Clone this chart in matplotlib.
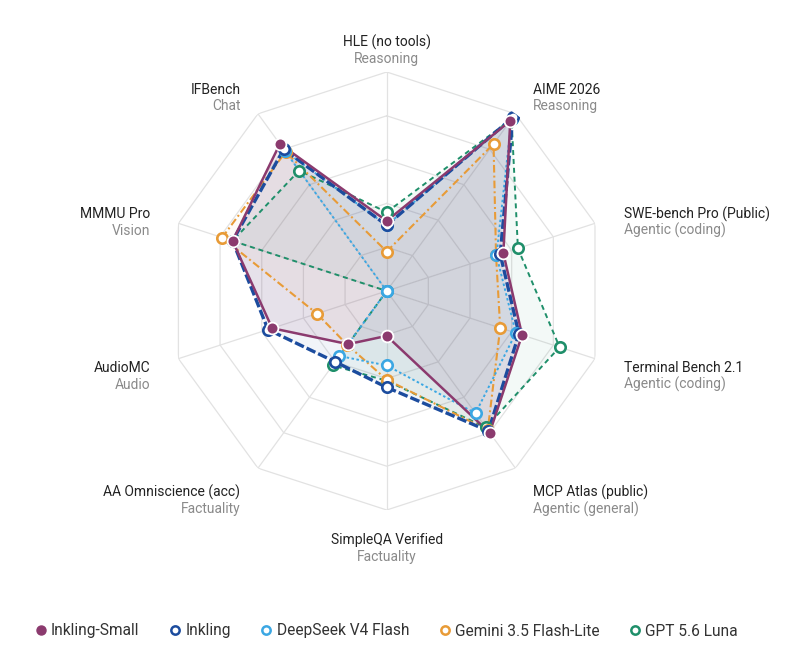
import numpy as np
import matplotlib
matplotlib.use("Agg")
import matplotlib.pyplot as plt
from matplotlib.lines import Line2D

plt.rcParams['font.family'] = ['Roboto', 'DejaVu Sans']
plt.rcParams['lines.scale_dashes'] = False

# axes (benchmark, category), clockwise from the top
benchmarks = ["HLE (no tools)", "AIME 2026", "SWE-bench Pro (Public)", "Terminal Bench 2.1",
              "MCP Atlas (public)", "SimpleQA Verified", "AA Omniscience (acc)", "AudioMC",
              "MMMU Pro", "IFBench"]
categories = ["Reasoning", "Reasoning", "Agentic (coding)", "Agentic (coding)",
              "Agentic (general)", "Factuality", "Factuality", "Audio", "Vision", "Chat"]

# normalised scores (0 = centre, 1 = outer ring)
inkling_small = [0.32, 0.96, 0.56, 0.65, 0.80, 0.205, 0.30, 0.55, 0.74, 0.83]
inkling       = [0.30, 0.98, 0.545, 0.635, 0.79, 0.44, 0.40, 0.57, 0.74, 0.80]
deepseek      = [0.30, 0.97, 0.527, 0.62, 0.69, 0.34, 0.367, 0.0, 0.0, 0.79]
gemini        = [0.18, 0.83, 0.525, 0.545, 0.785, 0.405, 0.305, 0.335, 0.79, 0.785]
gpt_luna      = [0.36, 0.97, 0.63, 0.83, 0.77, 0.41, 0.42, 0.0, 0.74, 0.68]

models = ["Inkling-Small", "Inkling", "DeepSeek V4 Flash", "Gemini 3.5 Flash-Lite", "GPT 5.6 Luna"]
scores = [inkling_small, inkling, deepseek, gemini, gpt_luna]

colors = ['#8b3a6e', '#1c4c9e', '#3ba7e3', '#e89b37', '#1f8f6a']
styles = ['-', (0, (7, 2.2)), (0, (1.8, 1.8)), (0, (5.5, 2.2, 1.4, 2.2)), (0, (3.6, 2.8))]
widths = [1.8, 2.4, 1.4, 1.5, 1.4]
fill_alpha = [0.10, 0.06, 0.06, 0.04, 0.05]
hollow = [False, True, True, True, True]

fig = plt.figure(figsize=(8.04, 6.57), dpi=100)
cx, cy, rad = 386.7 / 804, 1 - 291 / 657, 219.0
ax = fig.add_axes([cx - rad / 804, cy - rad / 657, 2 * rad / 804, 2 * rad / 657], projection='polar')
ax.set_theta_offset(np.pi / 2)
ax.set_theta_direction(-1)
ax.set_ylim(0, 1)
ax.grid(False)
ax.set_xticks([])
ax.set_yticks([])
ax.spines['polar'].set_visible(False)
ax.patch.set_alpha(0)

n = len(benchmarks)
angles = np.linspace(0, 2 * np.pi, n, endpoint=False)
closed = np.append(angles, angles[0])

# decagon grid
for r in [0.2, 0.4, 0.6, 0.8, 1.0]:
    ax.plot(closed, [r] * (n + 1), color='#e2e2e2', lw=0.9, zorder=0)
for a in angles:
    ax.plot([a, a], [0, 1], color='#e2e2e2', lw=0.9, zorder=0)

# series, drawn bottom to top
for i in reversed(range(len(models))):
    vals = np.append(scores[i], scores[i][0])
    ax.fill(closed, vals, color=colors[i], alpha=fill_alpha[i], lw=0, zorder=1)
    ax.plot(closed, vals, color=colors[i], ls=styles[i], lw=widths[i], zorder=2)
    if hollow[i]:
        ax.plot(angles, scores[i], ls='none', marker='o', ms=7.5, mfc='white',
                mec=colors[i], mew=1.9, zorder=3)
    else:
        ax.plot(angles, scores[i], ls='none', marker='o', ms=8.5, mfc=colors[i],
                mec='white', mew=1.3, zorder=3)

# axis labels
lab_r = 249 / rad
for a, name, cat in zip(angles, benchmarks, categories):
    s = np.sin(a)
    if abs(s) < 0.1:
        ha = 'center'
    elif s > 0:
        ha = 'left'
    else:
        ha = 'right'
    ax.annotate(name, (a, lab_r), ha=ha, va='center', fontsize=10, color='#222222',
                annotation_clip=False)
    ax.annotate(cat, (a, lab_r), xytext=(0, -12), textcoords='offset points', ha=ha,
                va='center', fontsize=10, color='#8a8a8a', annotation_clip=False)

# legend
handles = []
for i, m in enumerate(models):
    if hollow[i]:
        h = Line2D([], [], ls='none', marker='o', ms=6, mfc='white', mec=colors[i], mew=1.8)
    else:
        h = Line2D([], [], ls='none', marker='o', ms=6.5, mfc=colors[i], mec=colors[i])
    handles.append(h)
leg = fig.legend(handles, models, loc='center left', bbox_to_anchor=(36 / 804, 26 / 657), ncol=5,
                 frameon=False, fontsize=11.2, handlelength=0.6, handletextpad=0.35,
                 columnspacing=2.0, borderaxespad=0, borderpad=0)
for t in leg.get_texts():
    t.set_color('#333333')

fig.savefig('out.png', dpi=100, facecolor='white')
